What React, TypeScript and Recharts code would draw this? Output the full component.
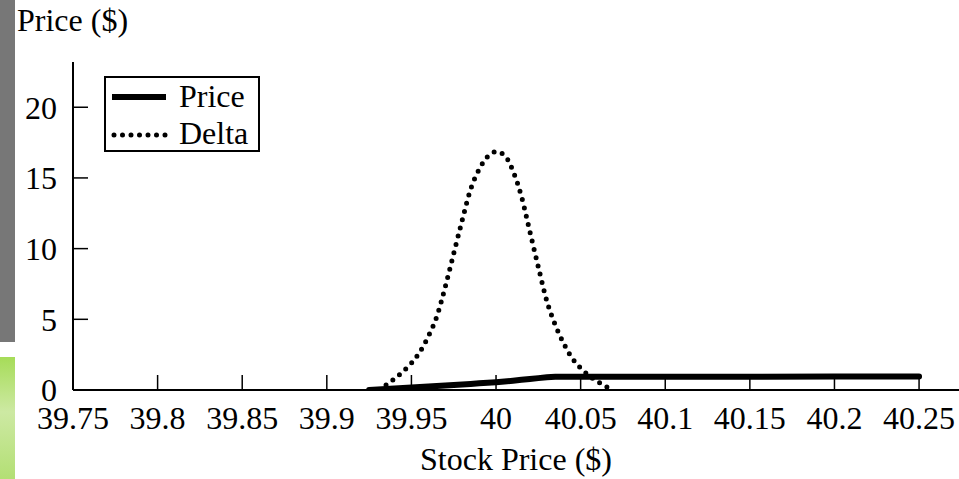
import { LineChart, Line, XAxis, YAxis, Legend } from 'recharts'

// stock price grid ($)
const stockPrices = [
  39.925, 39.93, 39.935, 39.94, 39.945, 39.95, 39.955, 39.96, 39.965, 39.97, 39.975,
  39.98, 39.985, 39.99, 39.995, 40, 40.005, 40.01, 40.015, 40.02, 40.025, 40.03,
  40.035, 40.04, 40.045, 40.05, 40.055, 40.06, 40.065, 40.068, 40.1, 40.15, 40.2, 40.25,
]

const priceValues: (number | null)[] = [
  0, 0.03, 0.07, 0.1, 0.14, 0.17, 0.21, 0.24, 0.28, 0.31, 0.35,
  0.39, 0.43, 0.47, 0.51, 0.55, 0.6, 0.66, 0.72, 0.78, 0.84, 0.9,
  0.93, 0.932, 0.934, 0.935, 0.936, 0.937, 0.938, 0.938, 0.94, 0.945, 0.95, 0.95,
]

const deltaValues: (number | null)[] = [
  null, null, 0.35, 0.8, 1.3, 1.9, 2.7, 3.8, 5.2, 7.3, 9.66,
  12.0, 14.2, 15.6, 16.5, 16.85, 16.6, 15.5, 13.7, 11.2, 8.7, 6.3,
  4.6, 3.3, 2.25, 1.55, 1.0, 0.6, 0.25, 0, null, null, null, null,
]

const xTicks = [39.75, 39.8, 39.85, 39.9, 39.95, 40, 40.05, 40.1, 40.15, 40.2, 40.25]
const yTicks = [0, 5, 10, 15, 20]

const data = stockPrices.map((s, i) => ({ s, price: priceValues[i], delta: deltaValues[i] }))

const font = '"Liberation Serif", "Times New Roman", serif'

function LegendBox() {
  return (
    <svg width={156} height={76} style={{ display: 'block', overflow: 'visible' }}>
      <rect x={1} y={1} width={154} height={74} fill="#fff" stroke="#000" strokeWidth={2} />
      <line x1={8} y1={21} x2={62} y2={21} stroke="#000" strokeWidth={6} />
      <line x1={10} y1={59} x2={62} y2={59} stroke="#000" strokeWidth={5} strokeDasharray="0 8.5" strokeLinecap="round" />
      <text x={75} y={31} fontFamily={font} fontSize={32} fill="#000">Price</text>
      <text x={75} y={68} fontFamily={font} fontSize={32} fill="#000">Delta</text>
    </svg>
  )
}

export default function App() {
  return (
    <div style={{ position: 'absolute', left: 0, top: 0, width: 959, height: 479, background: '#fff' }}>
      <div style={{ position: 'absolute', left: 0, top: 0, width: 15, height: 342, background: '#777' }} />
      <div
        style={{
          position: 'absolute',
          left: 0,
          top: 357,
          width: 15,
          height: 122,
          background: 'linear-gradient(#a6dc58, #cde9a3 45%, #b3df74)',
        }}
      />
      <div
        style={{
          position: 'absolute',
          left: 17,
          top: 2,
          fontFamily: font,
          fontSize: 32,
          color: '#000',
          lineHeight: '36px',
        }}
      >
        Price ($)
      </div>
      <LineChart width={959} height={479} data={data} margin={{ top: 62, right: 0, bottom: 0, left: 0 }}>
        <XAxis
          dataKey="s"
          type="number"
          domain={[39.75, 40.2736]}
          ticks={xTicks}
          interval={0}
          height={89}
          tickSize={-15}
          tickMargin={31}
          axisLine={{ stroke: '#000', strokeWidth: 2 }}
          tickLine={{ stroke: '#000', strokeWidth: 1.5 }}
          tick={{ fill: '#000', fontFamily: font, fontSize: 32 }}
          tickFormatter={(v: number) => String(Number(v.toFixed(2)))}
          allowDataOverflow
          label={{
            value: 'Stock Price ($)',
            position: 'insideBottom',
            offset: 9,
            fill: '#000',
            fontFamily: font,
            fontSize: 32,
          }}
        />
        <YAxis
          type="number"
          domain={[0, 23.2]}
          ticks={yTicks}
          interval={0}
          width={73}
          tickSize={-15}
          tickMargin={31}
          axisLine={{ stroke: '#000', strokeWidth: 2 }}
          tickLine={{ stroke: '#000', strokeWidth: 1.5 }}
          tick={{ fill: '#000', fontFamily: font, fontSize: 32 }}
          allowDataOverflow
        />
        <Legend
          layout="horizontal"
          verticalAlign="middle"
          align="center"
          content={<LegendBox />}
          wrapperStyle={{ position: 'absolute', left: 104, top: 76, width: 156, height: 76 }}
        />
        <Line
          dataKey="price"
          type="linear"
          stroke="#000"
          strokeWidth={6}
          dot={false}
          activeDot={false}
          isAnimationActive={false}
          strokeLinecap="round"
        />
        <Line
          dataKey="delta"
          type="monotone"
          stroke="#000"
          strokeWidth={5}
          strokeDasharray="0 8.5"
          strokeLinecap="round"
          dot={false}
          activeDot={false}
          isAnimationActive={false}
        />
      </LineChart>
    </div>
  )
}
